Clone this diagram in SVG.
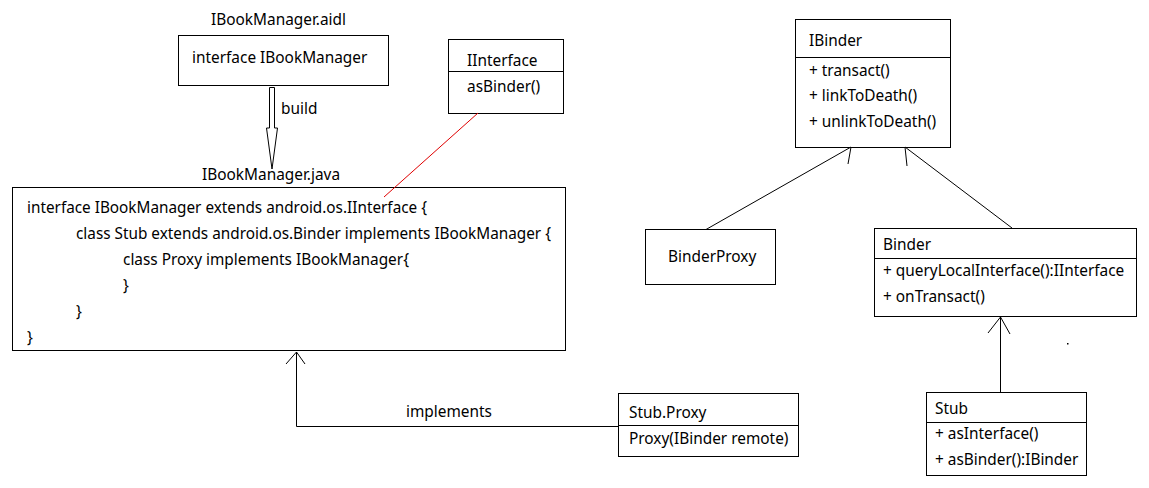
<svg xmlns="http://www.w3.org/2000/svg" width="1149" height="488" viewBox="0 0 1149 488">
<style>
text{font-family:"Noto Sans","Liberation Sans",sans-serif;font-size:15.4px;fill:#000}
.box{fill:#fff;stroke:#000;stroke-width:1}
.ln{fill:none;stroke:#000;stroke-width:1}
</style>
<rect x="0" y="0" width="1149" height="488" fill="#fff"/>
<g id="aidl">
<text x="211" y="25">IBookManager.aidl</text>
<rect class="box" x="178.5" y="35.5" width="210" height="50"/>
<text x="192" y="63">interface IBookManager</text>
</g>
<g id="java">
<text x="202" y="180">IBookManager.java</text>
<rect class="box" x="12.5" y="187.5" width="553" height="163"/>
<text x="27" y="213" textLength="400" lengthAdjust="spacingAndGlyphs">interface IBookManager extends android.os.IInterface {</text>
<text x="76" y="239" textLength="475" lengthAdjust="spacingAndGlyphs">class Stub extends android.os.Binder implements IBookManager {</text>
<text x="123" y="265" textLength="286" lengthAdjust="spacingAndGlyphs">class Proxy implements IBookManager{</text>
<text x="123" y="291">}</text>
<text x="76" y="317">}</text>
<text x="27" y="343">}</text>
</g>
<g id="iinterface">
<rect class="box" x="448.5" y="39.5" width="115" height="74"/>
<line class="ln" x1="448.5" y1="71.5" x2="563.5" y2="71.5"/>
<text x="467" y="66">IInterface</text>
<text x="467" y="92">asBinder()</text>
</g>
<g id="ibinder">
<rect class="box" x="795.5" y="19.5" width="155" height="128"/>
<line class="ln" x1="795.5" y1="57.5" x2="950.5" y2="57.5"/>
<text x="809" y="46">IBinder</text>
<text x="809" y="76">+ transact()</text>
<text x="809" y="101">+ linkToDeath()</text>
<text x="809" y="127">+ unlinkToDeath()</text>
</g>
<g id="binderproxy">
<rect class="box" x="645.5" y="229.5" width="130" height="55"/>
<text x="668" y="262">BinderProxy</text>
</g>
<g id="binder">
<rect class="box" x="874.5" y="228.5" width="262" height="88"/>
<line class="ln" x1="874.5" y1="258.5" x2="1136.5" y2="258.5"/>
<text x="883" y="250">Binder</text>
<text x="883" y="276">+ queryLocalInterface():IInterface</text>
<text x="883" y="302">+ onTransact()</text>
</g>
<g id="stub">
<rect class="box" x="926.5" y="392.5" width="160" height="83"/>
<line class="ln" x1="926.5" y1="422.5" x2="1086.5" y2="422.5"/>
<text x="935" y="414">Stub</text>
<text x="935" y="439">+ asInterface()</text>
<text x="935" y="465">+ asBinder():IBinder</text>
</g>
<g id="stubproxy">
<rect class="box" x="618.5" y="393.5" width="180" height="63"/>
<line class="ln" x1="618.5" y1="425.5" x2="798.5" y2="425.5"/>
<text x="629" y="418">Stub.Proxy</text>
<text x="629" y="444">Proxy(IBinder remote)</text>
</g>
<g id="connectors">
<polygon class="box" points="269.5,87.5 274.5,87.5 274.5,128 277.5,128 272,169 266.5,128 269.5,128"/>
<text x="281" y="114">build</text>
<line x1="478" y1="113" x2="384" y2="197" stroke="#e00000" stroke-width="1"/>
<line class="ln" x1="851" y1="147" x2="706" y2="229.5"/>
<line class="ln" x1="851" y1="147" x2="848" y2="164"/>
<line class="ln" x1="905" y1="147" x2="1012" y2="228"/>
<line class="ln" x1="905" y1="147" x2="907" y2="166"/>
<line class="ln" x1="1000.5" y1="317" x2="1000.5" y2="392.5"/>
<polyline class="ln" points="988,333 1000.5,317 1010,334"/>
<polyline class="ln" points="618.5,426.5 296.5,426.5 296.5,352"/>
<polyline class="ln" points="286,364 296.5,352 305,364"/>
<text x="406" y="417">implements</text>
<rect x="1067" y="343" width="1.5" height="1.5" fill="#000"/>
</g>
</svg>
